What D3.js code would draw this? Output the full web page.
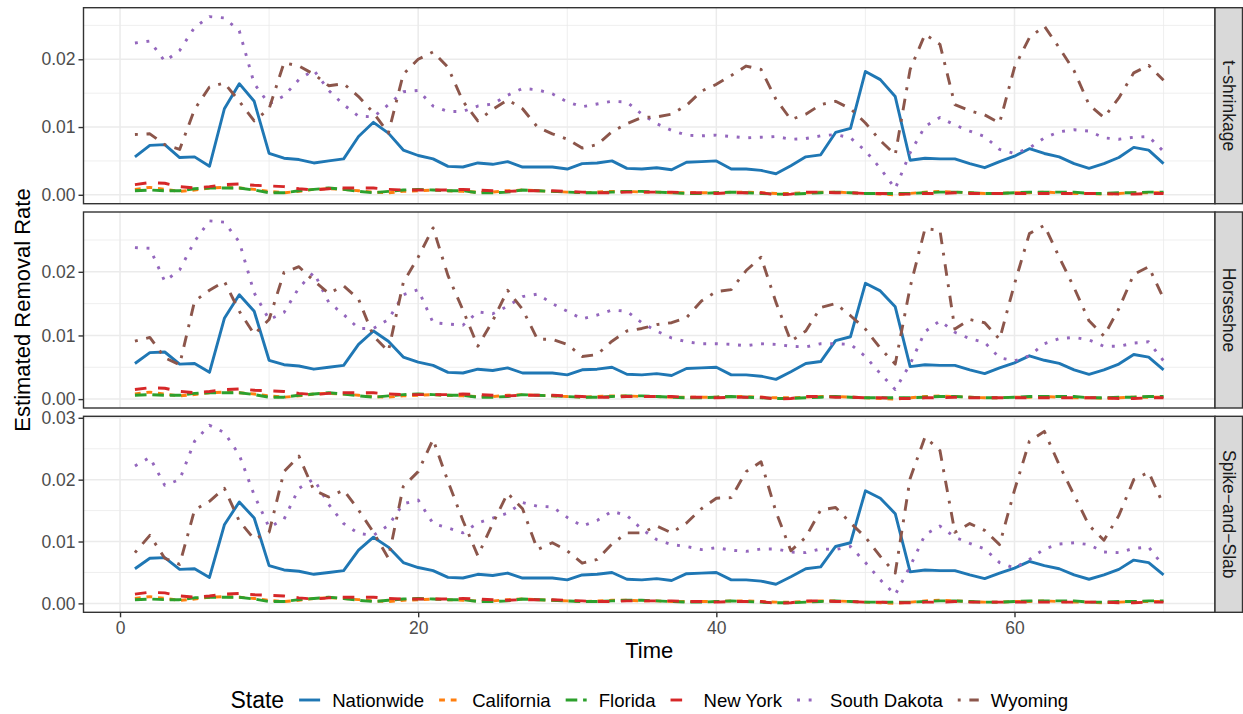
<!DOCTYPE html>
<html>
<head>
<meta charset="utf-8">
<script src="https://cdn.jsdelivr.net/npm/d3@7"></script>
<style>
  html, body { margin: 0; padding: 0; background: #ffffff; }
  svg text { font-family: "Liberation Sans", Arial, Helvetica, sans-serif; }
</style>
</head>
<body>
<svg id="chart" width="1243" height="714"></svg>
<script>
// ---- data -------------------------------------------------------------
const time = d3.range(1, 71);

const states = ["Nationwide", "California", "Florida", "New York", "South Dakota", "Wyoming"];
const panels = ["t\u2212shrinkage", "Horseshoe", "Spike\u2212and\u2212Slab"];

// observed series, shared by all three priors
const nationwide = [
  0.0056, 0.0073, 0.0074, 0.0055, 0.0056, 0.0042, 0.0127, 0.0164, 0.0138, 0.0061,
  0.0054, 0.0052, 0.0047, 0.0050, 0.0053, 0.0086, 0.0107, 0.0091, 0.0066, 0.0058,
  0.0053, 0.0042, 0.0041, 0.0047, 0.0045, 0.0049, 0.0041, 0.0041, 0.0041, 0.0038,
  0.0046, 0.0047, 0.0050, 0.0039, 0.0038, 0.0040, 0.0037, 0.0048, 0.0049, 0.0050,
  0.0038, 0.0038, 0.0036, 0.0031, 0.0043, 0.0056, 0.0059, 0.0092, 0.0098, 0.0182,
  0.0170, 0.0145, 0.0051, 0.0054, 0.0053, 0.0053, 0.0046, 0.0040, 0.0049, 0.0057,
  0.0068, 0.0061, 0.0056, 0.0046, 0.0039, 0.0046, 0.0055, 0.0070, 0.0066, 0.0046];

const california = [
  0.0008, 0.0011, 0.0008, 0.0005, 0.0007, 0.0010, 0.0011, 0.0010, 0.0008, 0.0005,
  0.0003, 0.0005, 0.0008, 0.0009, 0.0008, 0.0006, 0.0004, 0.0003, 0.0005, 0.0006,
  0.0007, 0.0006, 0.0005, 0.0004, 0.0004, 0.0006, 0.0007, 0.0006, 0.0005, 0.0004,
  0.0003, 0.0004, 0.0005, 0.0005, 0.0004, 0.0004, 0.0003, 0.0003, 0.0003, 0.0003,
  0.0004, 0.0004, 0.0003, 0.0002, 0.0002, 0.0003, 0.0004, 0.0004, 0.0003, 0.0002,
  0.0001, 0.0000, 0.0002, 0.0004, 0.0005, 0.0004, 0.0003, 0.0002, 0.0002, 0.0003,
  0.0003, 0.0004, 0.0003, 0.0002, 0.0002, 0.0001, 0.0002, 0.0003, 0.0003, 0.0003];

const florida = [
  0.0006, 0.0007, 0.0006, 0.0006, 0.0009, 0.0010, 0.0010, 0.0010, 0.0007, 0.0003,
  0.0003, 0.0006, 0.0008, 0.0010, 0.0008, 0.0005, 0.0003, 0.0005, 0.0007, 0.0008,
  0.0007, 0.0006, 0.0006, 0.0003, 0.0003, 0.0004, 0.0007, 0.0006, 0.0005, 0.0004,
  0.0003, 0.0003, 0.0004, 0.0005, 0.0005, 0.0004, 0.0003, 0.0002, 0.0002, 0.0003,
  0.0004, 0.0003, 0.0002, 0.0001, 0.0001, 0.0002, 0.0003, 0.0004, 0.0003, 0.0002,
  0.0002, 0.0002, 0.0002, 0.0003, 0.0004, 0.0004, 0.0003, 0.0002, 0.0002, 0.0003,
  0.0004, 0.0004, 0.0004, 0.0004, 0.0002, 0.0002, 0.0003, 0.0003, 0.0004, 0.0004];

const newYork = [
  0.0015, 0.0018, 0.0017, 0.0012, 0.0010, 0.0012, 0.0015, 0.0016, 0.0014, 0.0013,
  0.0012, 0.0009, 0.0007, 0.0009, 0.0010, 0.0010, 0.0010, 0.0008, 0.0007, 0.0007,
  0.0007, 0.0007, 0.0008, 0.0007, 0.0006, 0.0005, 0.0006, 0.0006, 0.0006, 0.0005,
  0.0004, 0.0003, 0.0003, 0.0004, 0.0004, 0.0004, 0.0004, 0.0003, 0.0003, 0.0002,
  0.0003, 0.0003, 0.0003, 0.0000, 0.0001, 0.0004, 0.0004, 0.0003, 0.0003, 0.0002,
  0.0002, 0.0001, 0.0001, 0.0002, 0.0002, 0.0003, 0.0002, 0.0002, 0.0002, 0.0002,
  0.0002, 0.0002, 0.0002, 0.0002, 0.0002, 0.0002, 0.0001, 0.0001, 0.0002, 0.0002];

// South Dakota, one array per prior
const southDakotaT = [
  0.0224, 0.0227, 0.0197, 0.0213, 0.0247, 0.0263, 0.0261, 0.0242, 0.0164, 0.0134,
  0.0146, 0.0170, 0.0184, 0.0154, 0.0133, 0.0116, 0.0115, 0.0133, 0.0152, 0.0154,
  0.0131, 0.0123, 0.0123, 0.0131, 0.0134, 0.0147, 0.0157, 0.0155, 0.0149, 0.0137,
  0.0130, 0.0134, 0.0138, 0.0137, 0.0119, 0.0105, 0.0095, 0.0088, 0.0087, 0.0088,
  0.0086, 0.0084, 0.0085, 0.0086, 0.0082, 0.0083, 0.0087, 0.0089, 0.0084, 0.0065,
  0.0039, 0.0009, 0.0062, 0.0101, 0.0114, 0.0103, 0.0094, 0.0086, 0.0067, 0.0061,
  0.0069, 0.0084, 0.0093, 0.0096, 0.0094, 0.0084, 0.0082, 0.0085, 0.0086, 0.0064];

const southDakotaHS = [
  0.0238, 0.0237, 0.0185, 0.0203, 0.0248, 0.0280, 0.0278, 0.0247, 0.0167, 0.0125,
  0.0136, 0.0175, 0.0199, 0.0152, 0.0133, 0.0111, 0.0111, 0.0125, 0.0164, 0.0172,
  0.0120, 0.0118, 0.0116, 0.0137, 0.0134, 0.0146, 0.0161, 0.0165, 0.0150, 0.0138,
  0.0126, 0.0132, 0.0140, 0.0138, 0.0120, 0.0107, 0.0096, 0.0090, 0.0087, 0.0087,
  0.0086, 0.0084, 0.0087, 0.0086, 0.0083, 0.0082, 0.0087, 0.0087, 0.0086, 0.0067,
  0.0040, 0.0015, 0.0055, 0.0106, 0.0123, 0.0105, 0.0095, 0.0089, 0.0065, 0.0060,
  0.0068, 0.0087, 0.0095, 0.0097, 0.0093, 0.0083, 0.0083, 0.0088, 0.0090, 0.0060];

const southDakotaSS = [
  0.0222, 0.0236, 0.0191, 0.0200, 0.0262, 0.0288, 0.0276, 0.0240, 0.0175, 0.0123,
  0.0136, 0.0186, 0.0201, 0.0160, 0.0129, 0.0113, 0.0110, 0.0126, 0.0161, 0.0167,
  0.0129, 0.0122, 0.0114, 0.0130, 0.0138, 0.0146, 0.0163, 0.0157, 0.0156, 0.0139,
  0.0125, 0.0134, 0.0149, 0.0142, 0.0120, 0.0103, 0.0095, 0.0092, 0.0087, 0.0090,
  0.0086, 0.0084, 0.0088, 0.0088, 0.0083, 0.0082, 0.0088, 0.0087, 0.0092, 0.0066,
  0.0038, 0.0014, 0.0060, 0.0111, 0.0125, 0.0107, 0.0097, 0.0088, 0.0066, 0.0057,
  0.0071, 0.0088, 0.0096, 0.0098, 0.0095, 0.0083, 0.0082, 0.0089, 0.0091, 0.0060];

// Wyoming, one array per prior
const wyomingT = [
  0.0089, 0.0090, 0.0074, 0.0067, 0.0126, 0.0159, 0.0165, 0.0138, 0.0109, 0.0127,
  0.0195, 0.0190, 0.0178, 0.0161, 0.0164, 0.0145, 0.0121, 0.0091, 0.0178, 0.0200,
  0.0211, 0.0188, 0.0138, 0.0109, 0.0126, 0.0140, 0.0127, 0.0100, 0.0090, 0.0082,
  0.0069, 0.0074, 0.0093, 0.0105, 0.0114, 0.0115, 0.0119, 0.0132, 0.0153, 0.0163,
  0.0176, 0.0190, 0.0185, 0.0141, 0.0111, 0.0119, 0.0133, 0.0138, 0.0127, 0.0106,
  0.0080, 0.0059, 0.0185, 0.0237, 0.0222, 0.0133, 0.0124, 0.0118, 0.0106, 0.0188,
  0.0232, 0.0249, 0.0217, 0.0183, 0.0133, 0.0114, 0.0143, 0.0180, 0.0191, 0.0169];

const wyomingHS = [
  0.0091, 0.0097, 0.0065, 0.0054, 0.0154, 0.0171, 0.0185, 0.0138, 0.0102, 0.0125,
  0.0199, 0.0208, 0.0186, 0.0166, 0.0178, 0.0157, 0.0099, 0.0075, 0.0183, 0.0223,
  0.0269, 0.0194, 0.0140, 0.0083, 0.0123, 0.0171, 0.0141, 0.0094, 0.0094, 0.0086,
  0.0067, 0.0070, 0.0091, 0.0107, 0.0111, 0.0117, 0.0120, 0.0128, 0.0154, 0.0169,
  0.0172, 0.0202, 0.0223, 0.0152, 0.0091, 0.0107, 0.0144, 0.0150, 0.0131, 0.0110,
  0.0080, 0.0055, 0.0176, 0.0268, 0.0265, 0.0110, 0.0125, 0.0120, 0.0094, 0.0181,
  0.0260, 0.0273, 0.0223, 0.0175, 0.0123, 0.0099, 0.0142, 0.0196, 0.0208, 0.0158];

const wyomingSS = [
  0.0082, 0.0110, 0.0073, 0.0063, 0.0151, 0.0165, 0.0186, 0.0133, 0.0104, 0.0115,
  0.0213, 0.0238, 0.0183, 0.0172, 0.0183, 0.0151, 0.0115, 0.0073, 0.0189, 0.0213,
  0.0265, 0.0197, 0.0134, 0.0077, 0.0129, 0.0178, 0.0153, 0.0087, 0.0098, 0.0085,
  0.0065, 0.0071, 0.0096, 0.0114, 0.0114, 0.0125, 0.0114, 0.0130, 0.0153, 0.0170,
  0.0171, 0.0213, 0.0229, 0.0148, 0.0085, 0.0107, 0.0151, 0.0155, 0.0130, 0.0107,
  0.0076, 0.0049, 0.0202, 0.0269, 0.0247, 0.0115, 0.0129, 0.0118, 0.0095, 0.0183,
  0.0262, 0.0278, 0.0224, 0.0175, 0.0126, 0.0102, 0.0142, 0.0200, 0.0212, 0.0159];

const xBreaks = [0, 20, 40, 60];
const xMinor = [10, 30, 50, 70];

// ---- styling ------------------------------------------------------------
const colors = d3.scaleOrdinal().domain(states).range(d3.schemeCategory10.slice(0, 6));
const LW = 2.9;           // line width; dash units are multiples of it
const dashUnits = {
  "Nationwide": null,
  "California": [2, 2],
  "Florida": [4, 2],
  "New York": [4, 4],
  "South Dakota": [1, 3],
  "Wyoming": [1, 3, 4, 3]
};
const dashOf = s => dashUnits[s] ? dashUnits[s].map(v => v * LW).join(",") : null;

// ---- layout -------------------------------------------------------------
const svg = d3.select("#chart");
const panelLeft = 83.5, panelRight = 1215;
const panelTops = [7.7, 212, 416.3];
const panelH = 196;
const stripW = 27.5;

// facet data: per panel, one series per state
const panelSeries = [
  [nationwide, california, florida, newYork, southDakotaT, wyomingT],
  [nationwide, california, florida, newYork, southDakotaHS, wyomingHS],
  [nationwide, california, florida, newYork, southDakotaSS, wyomingSS]
];

// x scale with 5% expansion on each side
const xExt = d3.extent(time);
const xPad = (xExt[1] - xExt[0]) * 0.05;
const x = d3.scaleLinear().domain([xExt[0] - xPad, xExt[1] + xPad]).range([panelLeft, panelRight]);

const gridCol = "#EBEBEB", borderCol = "#333333";

panels.forEach((name, pi) => {
  const top = panelTops[pi], bottom = top + panelH;
  const series = panelSeries[pi];
  const all = series.flat();
  const yMin = d3.min(all), yMax = d3.max(all);
  const yPad = (yMax - yMin) * 0.05;
  const y = d3.scaleLinear().domain([yMin - yPad, yMax + yPad]).range([bottom, top]);

  const g = svg.append("g");
  g.append("rect").attr("x", panelLeft).attr("y", top)
    .attr("width", panelRight - panelLeft).attr("height", panelH).attr("fill", "#fff");

  // y breaks at 0.01 steps, minor halfway between
  const dom = y.domain();
  const yMajor = d3.range(Math.ceil(dom[0] / 0.01) * 0.01, dom[1] + 1e-9, 0.01).map(v => +v.toFixed(4));
  const yMinorB = yMajor.map(v => +(v + 0.005).toFixed(4)).concat([+(yMajor[0] - 0.005).toFixed(4)])
    .filter(v => v > dom[0] && v < dom[1]);

  // minor grid
  g.selectAll(".ymin").data(yMinorB).join("line")
    .attr("x1", panelLeft).attr("x2", panelRight)
    .attr("y1", d => y(d)).attr("y2", d => y(d))
    .attr("stroke", gridCol).attr("stroke-width", 0.8);
  g.selectAll(".xmin").data(xMinor).join("line")
    .attr("x1", d => x(d)).attr("x2", d => x(d))
    .attr("y1", top).attr("y2", bottom)
    .attr("stroke", gridCol).attr("stroke-width", 0.8);
  // major grid
  g.selectAll(".ymaj").data(yMajor).join("line")
    .attr("x1", panelLeft).attr("x2", panelRight)
    .attr("y1", d => y(d)).attr("y2", d => y(d))
    .attr("stroke", gridCol).attr("stroke-width", 1.5);
  g.selectAll(".xmaj").data(xBreaks).join("line")
    .attr("x1", d => x(d)).attr("x2", d => x(d))
    .attr("y1", top).attr("y2", bottom)
    .attr("stroke", gridCol).attr("stroke-width", 1.5);

  // lines
  const clipId = "clip" + pi;
  svg.append("clipPath").attr("id", clipId).append("rect")
    .attr("x", panelLeft).attr("y", top).attr("width", panelRight - panelLeft).attr("height", panelH);
  const line = d3.line().x((d, i) => x(time[i])).y(d => y(d));
  const lg = g.append("g").attr("clip-path", `url(#${clipId})`);
  states.forEach((s, si) => {
    lg.append("path").datum(series[si])
      .attr("d", line)
      .attr("fill", "none")
      .attr("stroke", colors(s))
      .attr("stroke-width", LW)
      .attr("stroke-linejoin", "round")
      .attr("stroke-linecap", "butt")
      .attr("stroke-dasharray", dashOf(s));
  });

  // y axis
  const yAxis = d3.axisLeft(y).tickValues(yMajor).tickFormat(d3.format(".2f")).tickSize(5).tickPadding(3);
  const ya = g.append("g").attr("transform", `translate(${panelLeft},0)`).call(yAxis);
  ya.select(".domain").remove();
  ya.selectAll("line").attr("stroke", borderCol).attr("stroke-width", 1.4);
  ya.selectAll("text").attr("fill", "#4D4D4D").style("font-size", "17.5px")
    .style("font-family", '"Liberation Sans", Arial, sans-serif');

  // panel border
  g.append("rect").attr("x", panelLeft).attr("y", top)
    .attr("width", panelRight - panelLeft).attr("height", panelH)
    .attr("fill", "none").attr("stroke", borderCol).attr("stroke-width", 1.4);

  // strip
  g.append("rect").attr("x", panelRight).attr("y", top)
    .attr("width", stripW).attr("height", panelH)
    .attr("fill", "#D9D9D9").attr("stroke", borderCol).attr("stroke-width", 1.4);
  g.append("text")
    .attr("transform", `translate(${panelRight + stripW / 2},${top + panelH / 2}) rotate(90)`)
    .attr("text-anchor", "middle").attr("dominant-baseline", "central")
    .attr("fill", "#1A1A1A").style("font-size", "17.5px").text(name);

  // x axis on the bottom panel only
  if (pi === panels.length - 1) {
    const xAxis = d3.axisBottom(x).tickValues(xBreaks).tickFormat(d3.format("d")).tickSize(5).tickPadding(4);
    const xa = g.append("g").attr("transform", `translate(0,${bottom})`).call(xAxis);
    xa.select(".domain").remove();
    xa.selectAll("line").attr("stroke", borderCol).attr("stroke-width", 1.4);
    xa.selectAll("text").attr("fill", "#4D4D4D").style("font-size", "17.5px")
      .style("font-family", '"Liberation Sans", Arial, sans-serif');
  }
});

// axis titles
const midX = (panelLeft + panelRight) / 2;
svg.append("text").attr("x", midX).attr("y", 658).attr("text-anchor", "middle")
  .style("font-size", "22px").attr("fill", "#000").text("Time");
svg.append("text")
  .attr("transform", `translate(22,${(panelTops[0] + panelTops[2] + panelH) / 2}) rotate(-90)`)
  .attr("text-anchor", "middle").attr("dominant-baseline", "central")
  .style("font-size", "22px").attr("fill", "#000").text("Estimated Removal Rate");

// legend (horizontal, centred under the panels)
const legY = 700;
const leg = svg.append("g");
const title = leg.append("text").attr("x", 0).attr("y", legY).attr("dominant-baseline", "central")
  .style("font-size", "23px").text("State");
let cx = title.node().getComputedTextLength() + 15;
const keyW = 21, keyGap = 12, itemGap = 15;
states.forEach(s => {
  leg.append("line").attr("x1", cx).attr("x2", cx + keyW).attr("y1", legY).attr("y2", legY)
    .attr("stroke", colors(s)).attr("stroke-width", LW)
    .attr("stroke-linecap", "butt").attr("stroke-dasharray", dashOf(s));
  const t = leg.append("text").attr("x", cx + keyW + keyGap).attr("y", legY)
    .attr("dominant-baseline", "central").style("font-size", "18.6px").text(s);
  cx += keyW + keyGap + t.node().getComputedTextLength() + itemGap;
});
const legW = cx - itemGap;
leg.attr("transform", `translate(${midX - legW / 2},0)`);
</script>
</body>
</html>
